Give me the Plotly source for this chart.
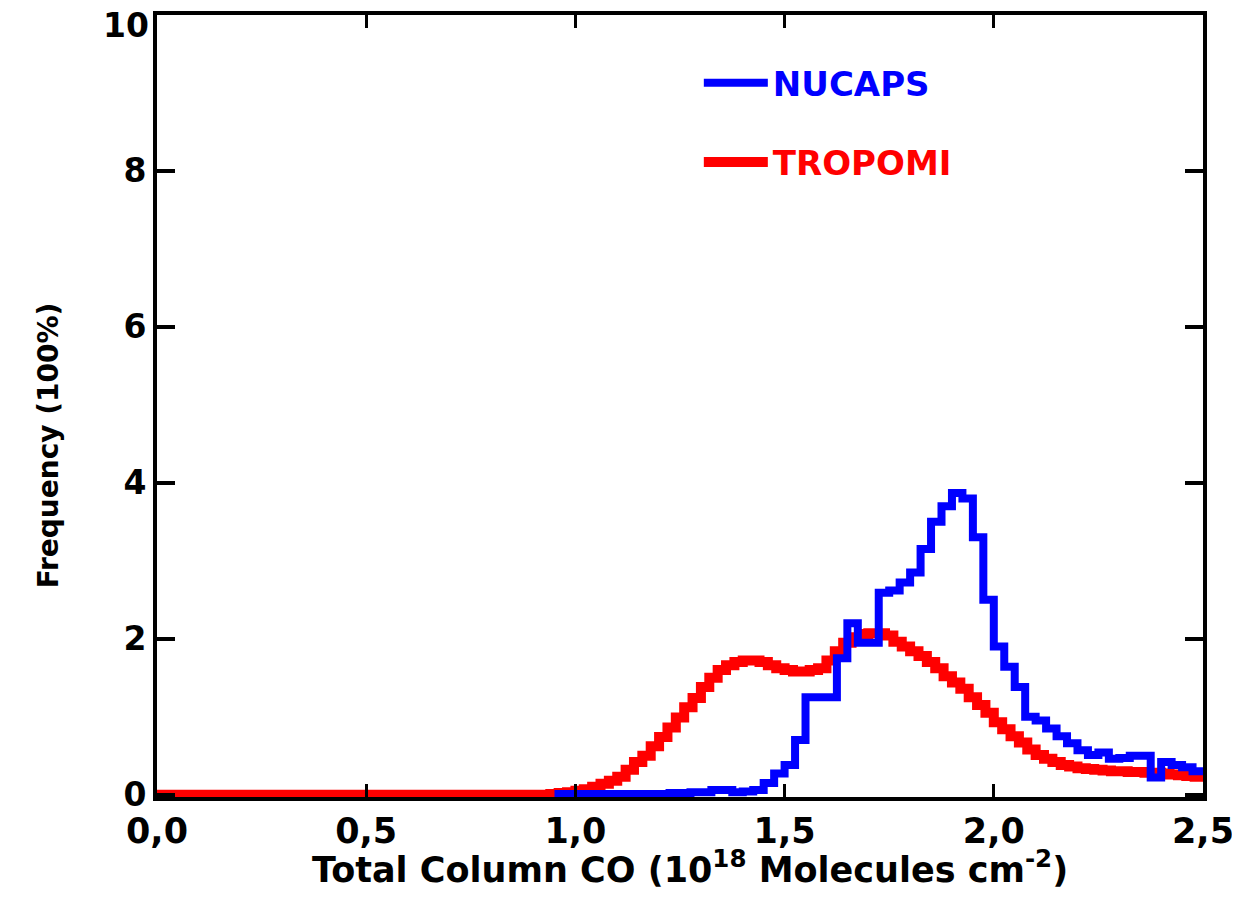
import numpy as np
import plotly.graph_objects as go

# ---------------- data ----------------
# TROPOMI histogram: bins of 0.02 starting at 0.0 (left edges)
tropomi_start = 0.0
tropomi_step = 0.02
tropomi_vals = [0.0] * 47 + [
    0.01, 0.02, 0.03,
    0.05, 0.07, 0.10, 0.14, 0.18, 0.23, 0.32, 0.42, 0.50, 0.62,
    0.74, 0.86, 0.99, 1.12, 1.24, 1.38, 1.50, 1.60, 1.66, 1.70,
    1.72, 1.72, 1.70, 1.66, 1.62, 1.60, 1.58, 1.58, 1.60, 1.62,
    1.72, 1.84, 1.95, 2.02, 2.06, 2.07, 2.07, 2.04, 1.96, 1.90,
    1.84, 1.78, 1.70, 1.62, 1.52, 1.44, 1.36, 1.25, 1.15, 1.05,
    0.93, 0.84, 0.75, 0.67, 0.58, 0.51, 0.46, 0.42, 0.38, 0.36,
    0.34, 0.33, 0.32, 0.31, 0.30, 0.30, 0.29, 0.29, 0.28, 0.28,
    0.27, 0.26, 0.25, 0.24, 0.23,
]

# NUCAPS histogram: bins of 0.025 starting at 0.95 (left edges)
nucaps_start = 0.95
nucaps_step = 0.025
nucaps_vals = [0.01] * 11 + [
    0.02, 0.02, 0.03, 0.03, 0.06, 0.06, 0.03, 0.04, 0.06, 0.15,
    0.27, 0.38, 0.70, 1.25, 1.25, 1.25, 1.75, 2.20, 1.95, 1.95,
    2.59, 2.62, 2.72, 2.85, 3.15, 3.50, 3.70, 3.87, 3.80, 3.30,
    2.50, 1.90, 1.64, 1.38, 1.00, 0.95, 0.85, 0.75, 0.66, 0.57,
    0.51, 0.54, 0.46, 0.47, 0.50, 0.50, 0.22, 0.42, 0.38, 0.35,
    0.30,
]

x_tickvals = [0.0, 0.5, 1.0, 1.5, 2.0, 2.5]
x_ticktext = ["0,0", "0,5", "1,0", "1,5", "2,0", "2,5"]
y_tickvals = [0, 2, 4, 6, 8, 10]
y_ticktext = ["0", "2", "4", "6", "8", "10"]


def step_xy(start, step, vals):
    vals = np.asarray(vals, dtype=float)
    x = start + step * np.arange(len(vals) + 1)
    y = np.append(vals, vals[-1])
    return x, y


tx, ty = step_xy(tropomi_start, tropomi_step, tropomi_vals)
nx, ny = step_xy(nucaps_start, nucaps_step, nucaps_vals)

BLUE = "#0000ff"
RED = "#ff0000"
FONT = "DejaVu Sans"
TICKFONT = dict(family=FONT, size=33, color="black", weight="bold")

fig = go.Figure()
fig.add_trace(go.Scatter(
    x=tx, y=ty, mode="lines", line=dict(color=RED, width=10, shape="hv"),
    name=f"<span style='color:{RED}'>TROPOMI</span>", legendrank=2,
    legendgroup="t", cliponaxis=False,
))
fig.add_trace(go.Scatter(
    x=nx, y=ny, mode="lines", line=dict(color=BLUE, width=8, shape="hv"),
    name=f"<span style='color:{BLUE}'>NUCAPS</span>", legendrank=1,
    legendgroup="n", cliponaxis=False,
))

axis_common = dict(
    showline=True, linecolor="black", linewidth=4, mirror="ticks",
    ticks="inside", tickcolor="black", showgrid=False, zeroline=False,
    ticklabeloverflow="allow", automargin=False,
)

# the top tick label would be clipped at the page edge, so it is drawn as an
# annotation nudged a few pixels down (as in the reference)
y_axis_labels = [t if v != max(y_tickvals) else "" for v, t in zip(y_tickvals, y_ticktext)]

fig.update_layout(
    width=1240, height=920,
    margin=dict(l=149, r=45, t=7, b=131),
    paper_bgcolor="white", plot_bgcolor="white",
    showlegend=True,
    legend=dict(
        x=0.518, y=0.950, xanchor="left", yanchor="top",
        font=dict(family=FONT, size=34, color="black", weight="bold"),
        bgcolor="rgba(0,0,0,0)", itemwidth=64, tracegroupgap=32,
    ),
    xaxis=dict(
        range=[0, 2.5], tickvals=x_tickvals, ticktext=x_ticktext,
        ticklen=13, tickwidth=3,
        tickfont=dict(family=FONT, size=35, color="black", weight="bold"),
        **axis_common,
    ),
    yaxis=dict(
        range=[-0.03, 10], tickvals=y_tickvals, ticktext=y_axis_labels,
        ticklen=18, tickwidth=4,
        tickfont=TICKFONT,
        **axis_common,
    ),
    annotations=[
        dict(
            text=y_ticktext[-1], xref="paper", yref="y",
            x=0, y=y_tickvals[-1], xanchor="right", yanchor="middle",
            xshift=-6, yshift=-10, showarrow=False, font=TICKFONT,
        ),
        dict(
            text="Frequency (100%)", xref="paper", yref="paper",
            x=-0.104, y=0.45, xanchor="center", yanchor="middle",
            textangle=-90, showarrow=False,
            font=dict(family=FONT, size=28, color="black", weight="bold"),
        ),
        dict(
            text="Total Column CO (10<sup>18</sup> Molecules cm<sup>-2</sup>)",
            xref="paper", yref="paper",
            x=0.5096, y=-0.09, xanchor="center", yanchor="middle",
            showarrow=False,
            font=dict(family=FONT, size=35, color="black", weight="bold"),
        ),
    ],
)

fig.write_html("out.html")
